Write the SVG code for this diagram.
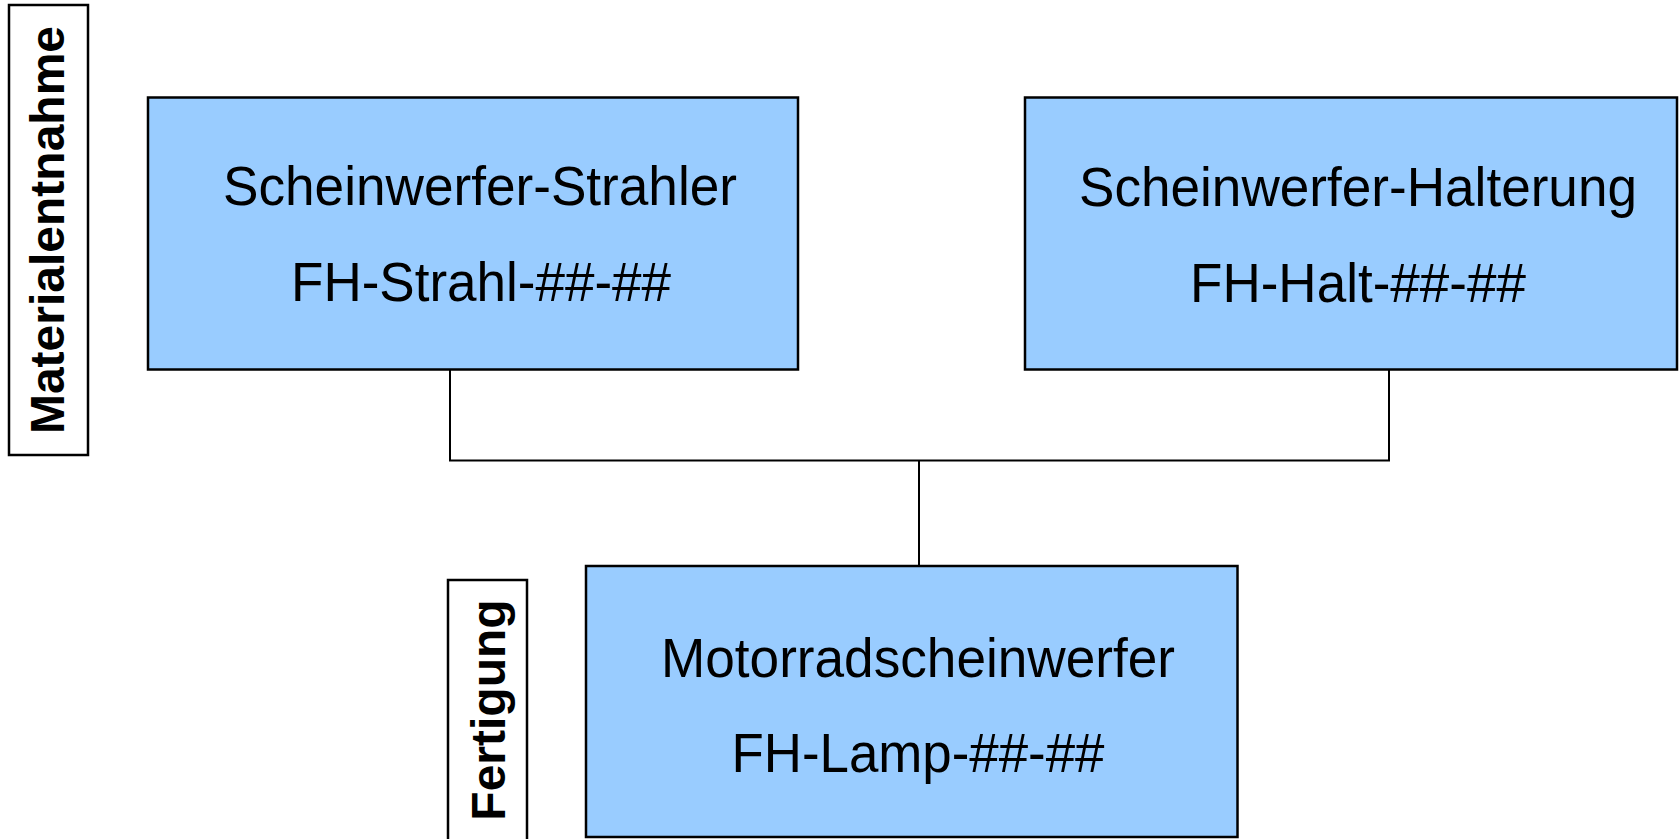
<svg xmlns="http://www.w3.org/2000/svg" width="1680" height="839" viewBox="0 0 1680 839">
<style>
.node{fill:#99CCFF;stroke:#000;stroke-width:2.5}
.lbl{fill:#fff;stroke:#000;stroke-width:2.5}
.t{font-family:"Liberation Sans",Arial,sans-serif;font-size:55px;fill:#000;text-anchor:middle}
.v{font-family:"Liberation Sans",Arial,sans-serif;font-size:48px;font-weight:bold;fill:#000;text-anchor:middle}
.c{stroke:#000;stroke-width:2;fill:none}
</style>
<rect width="1680" height="839" fill="#fff"/>
<g id="lane-materialentnahme">
<rect class="lbl" x="9" y="5" width="79" height="450"/>
<text class="v" transform="translate(64,230) rotate(-90)">Materialentnahme</text>
</g>
<g id="lane-fertigung">
<rect class="lbl" x="448" y="580" width="79" height="270"/>
<text class="v" transform="translate(505,710) rotate(-90)">Fertigung</text>
</g>
<g id="connectors">
<path class="c" d="M450 370 V460.5 H1389 V370"/>
<path class="c" d="M919 460.5 V566"/>
</g>
<g id="node-strahler">
<rect class="node" x="148" y="97.5" width="650" height="272"/>
<text class="t" x="480" y="205" textLength="514" lengthAdjust="spacingAndGlyphs">Scheinwerfer-Strahler</text>
<text class="t" x="481" y="301" textLength="380" lengthAdjust="spacingAndGlyphs">FH-Strahl-##-##</text>
</g>
<g id="node-halterung">
<rect class="node" x="1025" y="97.5" width="652" height="272"/>
<text class="t" x="1358" y="206" textLength="558" lengthAdjust="spacingAndGlyphs">Scheinwerfer-Halterung</text>
<text class="t" x="1358" y="302" textLength="336" lengthAdjust="spacingAndGlyphs">FH-Halt-##-##</text>
</g>
<g id="node-motorrad">
<rect class="node" x="586" y="566" width="651.5" height="271"/>
<text class="t" x="918" y="677" textLength="514" lengthAdjust="spacingAndGlyphs">Motorradscheinwerfer</text>
<text class="t" x="918" y="772" textLength="373" lengthAdjust="spacingAndGlyphs">FH-Lamp-##-##</text>
</g>
</svg>
